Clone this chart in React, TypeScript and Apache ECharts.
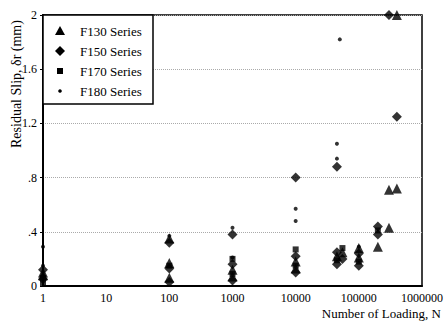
import React, { useEffect, useRef } from "react";
import * as echarts from "echarts";

const xTicks = [1, 10, 100, 1000, 10000, 100000, 1000000];
const yTicks = ["0", ".4", ".8", "1.2", "1.6", "2"];
const seriesNames = ["F130 Series", "F150 Series", "F170 Series", "F180 Series"];

const f130: [number, number][] = [
  [1, 0.1], [1, 0.08], [100, 0.35], [100, 0.17], [100, 0.06],
  [1000, 0.12], [1000, 0.07], [10000, 0.18], [10000, 0.13],
  [45000, 0.22], [55000, 0.25], [100000, 0.21], [100000, 0.28],
  [200000, 0.29], [300000, 0.43], [300000, 0.71], [400000, 0.72], [400000, 2.0],
];
const f150: [number, number][] = [
  [1, 0.12], [1, 0.05], [100, 0.32], [100, 0.13], [100, 0.03],
  [1000, 0.38], [1000, 0.16], [1000, 0.04], [10000, 0.8], [10000, 0.22], [10000, 0.1],
  [45000, 0.88], [45000, 0.16], [45000, 0.25], [55000, 0.2], [100000, 0.15], [100000, 0.24],
  [200000, 0.44], [200000, 0.38], [300000, 2.0], [400000, 1.25],
];
const f170: [number, number][] = [
  [1, 0.06], [1, 0.02], [100, 0.15], [1000, 0.2], [1000, 0.09],
  [10000, 0.27], [10000, 0.15], [45000, 0.19], [55000, 0.28], [100000, 0.18], [200000, 0.41],
];
const f180: [number, number][] = [
  [1, 0.29], [1, 0.15], [100, 0.37], [1000, 0.43], [1000, 0.21],
  [10000, 0.57], [10000, 0.48], [50000, 1.82], [45000, 1.05], [45000, 0.94], [100000, 0.29],
];

const serif = "Liberation Serif";

export default function App() {
  const ref = useRef<HTMLDivElement>(null);
  useEffect(() => {
    const chart = echarts.init(ref.current!, null, { renderer: "svg" });
    const mk = (name: string, data: [number, number][], symbol: string, size: number) => ({
      name,
      type: "scatter",
      data,
      symbol,
      symbolSize: size,
      clip: false,
      itemStyle: { color: "#000" },
    });
    const rowY = [31, 51, 71, 91];
    const iconX = 60;
    const legendIcons: any[] = [
      { type: "polygon", shape: { points: [[iconX, rowY[0] - 5], [iconX - 5, rowY[0] + 4], [iconX + 5, rowY[0] + 4]] }, style: { fill: "#000" } },
      { type: "polygon", shape: { points: [[iconX, rowY[1] - 5], [iconX + 5, rowY[1]], [iconX, rowY[1] + 5], [iconX - 5, rowY[1]]] }, style: { fill: "#000" } },
      { type: "rect", shape: { x: iconX - 3, y: rowY[2] - 3, width: 6, height: 6 }, style: { fill: "#000" } },
      { type: "circle", shape: { cx: iconX, cy: rowY[3], r: 1.8 }, style: { fill: "#000" } },
    ];
    const legendTexts = seriesNames.map((n, i) => ({
      type: "text",
      x: 80, y: rowY[i],
      style: { text: n, fontFamily: serif, fontSize: 13, fill: "#000", verticalAlign: "middle" },
    }));
    chart.setOption({
      animation: false,
      backgroundColor: "#fff",
      textStyle: { fontFamily: serif },
      grid: {
        left: 43, right: 14, top: 15, bottom: 41,
        show: true, borderColor: "#000", borderWidth: 1.5,
      },
      xAxis: {
        type: "log",
        logBase: 10,
        min: 1,
        max: 1000000,
        axisLine: { lineStyle: { color: "#000", width: 2 } },
        axisTick: { show: false },
        splitLine: { show: false },
        axisLabel: {
          color: "#000", fontFamily: serif, fontSize: 12, margin: 6,
          formatter: (v: number) => {
            const t = xTicks.find((k) => Math.abs(k - v) / k < 1e-6);
            return t !== undefined ? String(t) : "";
          },
        },
      },
      yAxis: {
        type: "value",
        min: 0,
        max: 2,
        interval: 0.4,
        axisLine: { show: true, lineStyle: { color: "#000", width: 2 } },
        axisTick: { show: true, inside: false, length: 3, lineStyle: { color: "#000" } },
        splitLine: { show: true, lineStyle: { color: "#aaa", type: "dotted", width: 1 } },
        axisLabel: {
          color: "#000", fontFamily: serif, fontSize: 12, margin: 6,
          formatter: (v: number) => yTicks[Math.round(v / 0.4)] ?? "",
        },
      },
      graphic: [
        {
          type: "text",
          x: 9, y: 148,
          rotation: Math.PI / 2,
          style: {
            text: "Residual Slip, δr (mm)",
            fontFamily: serif, fontSize: 14, fill: "#000",
          },
        },
        {
          type: "text",
          x: 441, y: 307,
          style: {
            text: "Number of Loading, N",
            fontFamily: serif, fontSize: 13, fill: "#000",
            align: "right",
          },
        },
        {
          type: "rect",
          z: 10,
          shape: { x: 43, y: 15, width: 110, height: 89 },
          style: { fill: "#fff", stroke: "#000", lineWidth: 1.5 },
        },
        ...legendIcons.map((g) => ({ ...g, z: 11 })),
        ...legendTexts.map((g) => ({ ...g, z: 11 })),
      ],
      series: [
        mk(seriesNames[0], f130, "triangle", 10),
        mk(seriesNames[1], f150, "diamond", 10),
        mk(seriesNames[2], f170, "rect", 6),
        mk(seriesNames[3], f180, "circle", 4),
      ],
    });
    return () => chart.dispose();
  }, []);
  return <div ref={ref} style={{ width: 446, height: 327, position: "absolute", left: 0, top: 0 }} />;
}
